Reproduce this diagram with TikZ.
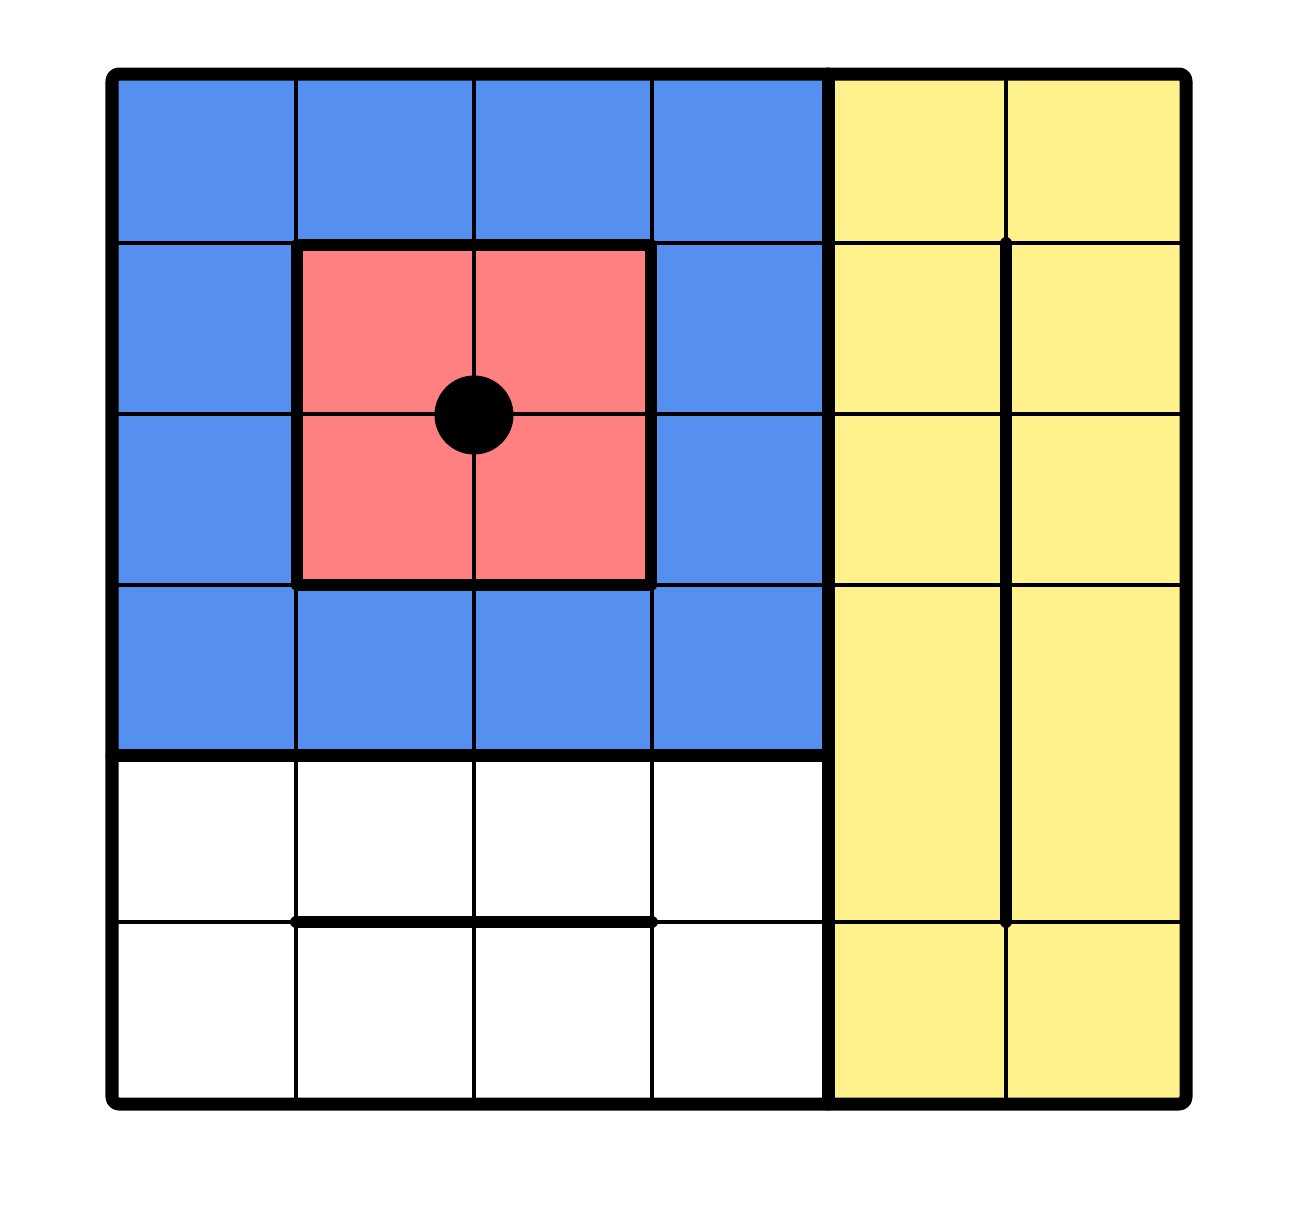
\documentclass[tikz,border=0pt]{standalone}
\usetikzlibrary{calc}
\definecolor{cellBlue}{RGB}{85,144,240}
\definecolor{cellRed}{RGB}{255,128,128}
\definecolor{cellYellow}{RGB}{255,242,140}
\begin{document}
\begin{tikzpicture}[x=0.01cm,y=-0.01cm]
%styles
\tikzstyle{thinLine}=[line width=1pt, line cap=round]
\tikzstyle{boldLine}=[line width=3.4pt, line cap=round, line join=round]
\tikzstyle{frameLine}=[line width=3.7pt, line cap=round, line join=round, rounded corners=2pt]
%figure
\useasboundingbox (0,0) rectangle (1306,1205);

%corners
\coordinate (a) at (112,74);
\coordinate (b) at (828,755);
\coordinate (c) at (1186,1104);
\coordinate (r1) at (297,245);
\coordinate (r2) at (651,585);

%cells
\fill[cellBlue] (a) rectangle (b);
\fill[white] (112,755) rectangle (828,1104);
\fill[cellYellow] (828,74) rectangle (c);
\fill[cellRed] (r1) rectangle (r2);

%grid
\foreach \x in {296,474,652,1006}
  \draw[thinLine] (\x,74) -- (\x,1104);
\foreach \y in {243,414,585,922}
  \draw[thinLine] (112,\y) -- (1186,\y);

%thick lines
\draw[boldLine] (r1) rectangle (r2);
\draw[boldLine] (296,922) -- (652,922);
\draw[boldLine] (1006,243) -- (1006,922);
\draw[frameLine] (112,755) -- (828,755);
\draw[frameLine] (828,74) -- (828,1104);
\draw[frameLine] (a) rectangle (c);

%point
\fill (474,415) circle[radius=39.5];

\end{tikzpicture}
\end{document}
